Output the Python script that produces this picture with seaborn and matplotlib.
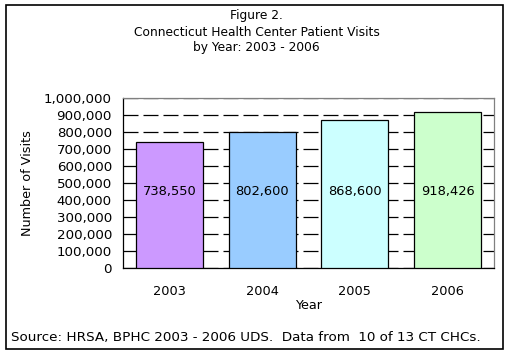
import matplotlib
matplotlib.use("Agg")
import matplotlib.pyplot as plt
import seaborn as sns
import pandas as pd
from matplotlib.patches import Rectangle
from matplotlib.ticker import FuncFormatter, MultipleLocator

# dados
anos = ["2003", "2004", "2005", "2006"]
visitas = [738550, 802600, 868600, 918426]
cores = ["#CC99FF", "#99CCFF", "#CCFFFF", "#CCFFCC"]
rotulos = ["738,550", "802,600", "868,600", "918,426"]

df = pd.DataFrame({"Year": anos, "Visits": visitas})

sns.set_style("white")
plt.rcParams["font.family"] = ["DejaVu Sans"]
plt.rcParams["text.color"] = "black"
plt.rcParams["axes.labelcolor"] = "black"
plt.rcParams["xtick.color"] = "black"
plt.rcParams["ytick.color"] = "black"
fs = 8.8

fig = plt.figure(figsize=(5.1, 3.55), dpi=100)
ax = fig.add_axes([123 / 510, 1 - 268 / 355, (494 - 123) / 510, (268 - 98) / 355])

sns.barplot(data=df, x="Year", y="Visits", hue="Year", palette=cores, legend=False,
            width=0.72, edgecolor="black", linewidth=0.9, saturation=1, ax=ax, zorder=3)

ax.set_ylim(0, 1000000)
ax.set_xlim(-0.5, 3.5)
ax.yaxis.set_major_locator(MultipleLocator(100000))
ax.yaxis.set_major_formatter(FuncFormatter(lambda v, p: f"{int(v):,}"))
ax.grid(axis="y", color="black", linestyle=(0, (12, 4)), linewidth=0.9, zorder=0)
ax.grid(axis="x", visible=False)

# rótulos dentro das barras, mesma altura
for i, txt in enumerate(rotulos):
    ax.text(i, 450000, txt, ha="center", va="center", fontsize=9.4, zorder=4)

ax.set_xticks([0, 1, 2, 3])
ax.set_xticklabels(anos, fontsize=9.3)
ax.set_xticks([-0.5, 0.5, 1.5, 2.5, 3.5], minor=True)
ax.tick_params(axis="x", which="major", length=0, pad=12)
ax.tick_params(axis="x", which="minor", length=5, width=0.9, direction="out")
ax.tick_params(axis="y", length=5, width=0.9, direction="out", labelsize=9.6, pad=3)
ax.set_xlabel("Year", fontsize=9.2, labelpad=1)
ax.set_ylabel("Number of Visits", fontsize=9.2, labelpad=7)

for s in ["left", "bottom"]:
    ax.spines[s].set_color("black")
    ax.spines[s].set_linewidth(0.9)
for s in ["top", "right"]:
    ax.spines[s].set_color("#808080")
    ax.spines[s].set_linewidth(0.9)

# títulos e fonte
fig.text(0.503, 1 - 16 / 355, "Figure 2.", ha="center", va="center", fontsize=fs)
fig.text(0.503, 1 - 32 / 355, "Connecticut Health Center Patient Visits", ha="center", va="center", fontsize=fs)
fig.text(0.503, 1 - 47 / 355, "by Year: 2003 - 2006", ha="center", va="center", fontsize=fs)
fig.text(11 / 510, 1 - 338 / 355, "Source: HRSA, BPHC 2003 - 2006 UDS.  Data from  10 of 13 CT CHCs.",
         ha="left", va="center", fontsize=9.7)

# borda externa
fig.patches.append(Rectangle((6 / 510, 1 - 349 / 355), (503 - 6) / 510, (349 - 5) / 355,
                             transform=fig.transFigure, fill=False, edgecolor="black", linewidth=1.2))

fig.savefig("out.png", dpi=100)
